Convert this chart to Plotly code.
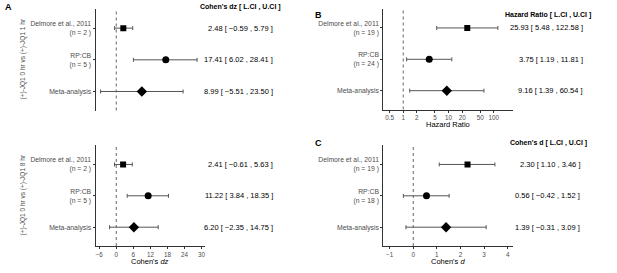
import plotly.graph_objects as go

W, H = 617, 273

studies = ["Delmore et al., 2011", "RP:CB", "Meta-analysis"]
ns_A = ["2", "5", None]
ns_B = ["19", "24", None]
ns_C = ["19", "18", None]
row_pos = [3, 2, 1]
symbols = ["square", "circle", "diamond"]
sizes = [6, 7, 8]

A1_est = [2.48, 17.41, 8.99]
A1_lo = [-0.59, 6.02, -5.51]
A1_hi = [5.79, 28.41, 23.50]

A2_est = [2.41, 11.22, 6.20]
A2_lo = [-0.61, 3.84, -2.35]
A2_hi = [5.63, 18.35, 14.75]

B_est = [25.93, 3.75, 9.16]
B_lo = [5.48, 1.19, 1.39]
B_hi = [122.58, 11.81, 60.54]

C_est = [2.30, 0.56, 1.39]
C_lo = [1.10, -0.42, -0.31]
C_hi = [3.46, 1.52, 3.09]

A_ticks = [-6, 0, 6, 12, 18, 24, 30]
B_ticks = [0.5, 1, 2, 5, 10, 20, 50, 100]
C_ticks = [-1, 0, 1, 2, 3, 4]

fig = go.Figure()

def px_x(p):
    return p / W

def px_y(p):
    return 1 - p / H

def labels(ns):
    out = []
    for s, n in zip(studies, ns):
        out.append(s if n is None else f"{s}<br>(n = {n} )")
    return out

def fmt(v):
    return f"{v:.2f}".replace("-", "\u2212")

panels = [
    dict(k="", est=A1_est, lo=A1_lo, hi=A1_hi, ns=ns_A, x0=95.5, x1=205, y0=8.5, y1=110.5,
         rng=[-7.3, 31.2], typ="linear", ticks=None, ref=0, title=None, ty=None,
         hdr="Cohen's dz [ L.CI , U.CI ]", hx=283, hy=7, vx=275, lab="A", lx=3, ly=7,
         ytitle="(+)-JQ1 0 hr vs (+)-JQ1 1 hr"),
    dict(k="2", est=A2_est, lo=A2_lo, hi=A2_hi, ns=ns_A, x0=95.5, x1=205, y0=145, y1=246,
         rng=[-7.3, 31.2], typ="linear", ticks=A_ticks, ref=0, title="Cohen's <i>dz</i>", ty=261,
         hdr=None, vx=275, lab=None, ytitle="(+)-JQ1 0 hr vs (+)-JQ1 8 hr"),
    dict(k="3", est=B_est, lo=B_lo, hi=B_hi, ns=ns_B, x0=383.3, x1=513.3, y0=8.5, y1=109.5,
         rng=[-0.44, 2.43], typ="log", ticks=B_ticks, ref=1, title="Hazard Ratio", ty=125,
         hdr="Hazard Ratio [ L.CI , U.CI ]", hx=593, hy=15, vx=585, lab="B", lx=313, ly=15,
         ytitle=None),
    dict(k="4", est=C_est, lo=C_lo, hi=C_hi, ns=ns_C, x0=383.3, x1=513.3, y0=145, y1=246,
         rng=[-1.27, 4.24], typ="linear", ticks=C_ticks, ref=0, title="Cohen's <i>d</i>", ty=261.5,
         hdr="Cohen's d [ L.CI , U.CI ]", hx=589, hy=143, vx=582, lab="C", lx=313, ly=143,
         ytitle=None),
]

annotations = []
shapes = []
for p in panels:
    k = p["k"]
    xa, ya = "x" + k, "y" + k
    for i in range(3):
        fig.add_trace(go.Scatter(
            x=[p["est"][i]], y=[row_pos[i]], xaxis=xa, yaxis=ya, mode="markers",
            marker=dict(symbol=symbols[i], size=sizes[i], color="black"),
            error_x=dict(type="data", symmetric=False,
                         array=[p["hi"][i] - p["est"][i]],
                         arrayminus=[p["est"][i] - p["lo"][i]],
                         color="#555555", thickness=1, width=2),
            showlegend=False, hoverinfo="skip"))
        annotations.append(dict(
            x=px_x(p["vx"]), xref="paper", y=row_pos[i], yref=ya, xanchor="right",
            yanchor="middle", showarrow=False,
            text=f"{fmt(p['est'][i])} [ {fmt(p['lo'][i])} , {fmt(p['hi'][i])} ]",
            font=dict(size=7.5, color="black")))
    shapes.append(dict(type="line", xref=xa, yref=ya + " domain", x0=p["ref"], x1=p["ref"],
                       y0=0, y1=1, line=dict(color="#666666", width=1, dash="dot")))
    xlay = dict(domain=[px_x(p["x0"]), px_x(p["x1"])], anchor=ya, type=p["typ"],
                range=p["rng"], zeroline=False, showgrid=False, automargin=False)
    if p["ticks"] is None:
        xlay.update(showline=False, showticklabels=False, ticks="")
    else:
        xlay.update(showline=True, linecolor="#333333", linewidth=1, ticks="outside",
                    ticklen=2, tickcolor="#333333", tickvals=p["ticks"],
                    ticktext=[str(t).replace("-", "\u2212") for t in p["ticks"]],
                    tickfont=dict(size=6.3, color="#4d4d4d"))
        annotations.append(dict(x=px_x((p["x0"] + p["x1"]) / 2), y=px_y(p["ty"]),
                                xref="paper", yref="paper", xanchor="center",
                                yanchor="middle", showarrow=False, text=p["title"],
                                font=dict(size=7.5, color="black")))
    ylay = dict(domain=[px_y(p["y1"]), px_y(p["y0"])], anchor=xa, range=[0.4, 3.62],
                showline=True, linecolor="#333333", linewidth=1, ticks="outside", ticklen=2,
                tickcolor="#333333", tickvals=row_pos, ticktext=labels(p["ns"]),
                tickfont=dict(size=6.8, color="#4d4d4d"), zeroline=False, showgrid=False,
                automargin=False)
    fig.update_layout(**{"xaxis" + k: xlay, "yaxis" + k: ylay})
    if p["hdr"]:
        annotations.append(dict(x=px_x(p["hx"]), y=px_y(p["hy"]), xref="paper", yref="paper",
                                xanchor="right", yanchor="middle", showarrow=False,
                                text=f"<b>{p['hdr']}</b>", font=dict(size=7, color="black")))
    if p["lab"]:
        annotations.append(dict(x=px_x(p["lx"]), y=px_y(p["ly"]), xref="paper", yref="paper",
                                xanchor="left", yanchor="middle", showarrow=False,
                                text=f"<b>{p['lab']}</b>", font=dict(size=9, color="black")))
    if p["ytitle"]:
        annotations.append(dict(x=px_x(22), y=px_y((p["y0"] + p["y1"]) / 2), xref="paper",
                                yref="paper", xanchor="center", yanchor="middle", showarrow=False,
                                textangle=-90, text=p["ytitle"],
                                font=dict(size=6.5, color="#4d4d4d")))

fig.update_layout(width=W, height=H, margin=dict(l=0, r=0, t=0, b=0, autoexpand=False),
                  plot_bgcolor="white", paper_bgcolor="white",
                  font=dict(family="Liberation Sans, Arial, sans-serif"),
                  annotations=annotations, shapes=shapes)

# remove the browser's default 8px body margin so the figure fills the window exactly
fig.write_html("out.html", config={"displayModeBar": False, "staticPlot": True},
               post_script="document.body.style.margin='0';document.body.style.overflow='hidden';")
